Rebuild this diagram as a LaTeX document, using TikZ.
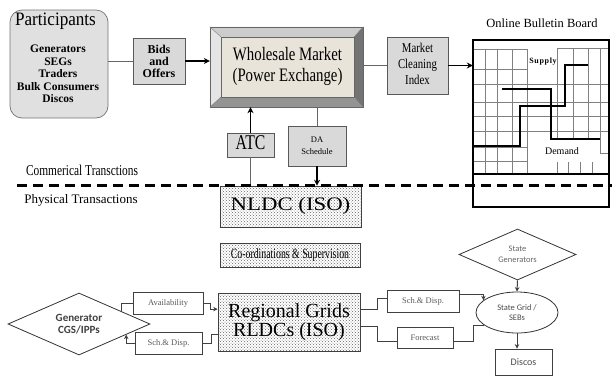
\documentclass[tikz,border=0pt]{standalone}
\usepackage{fontspec}
\usepackage{graphicx}
\setmainfont{Liberation Serif}
\newfontfamily\sansf{Carlito}
\usetikzlibrary{shapes.geometric,arrows.meta,calc,patterns}
\newcommand{\hsq}[2]{\scalebox{#1}[1]{\begin{tabular}{@{}c@{}}#2\end{tabular}}}
\definecolor{beige}{HTML}{E9E4DA}
\begin{document}
\begin{tikzpicture}[x=1pt,y=-1pt,
  thinln/.style={draw=black!60,line width=0.6pt},
  thickarr/.style={draw=black,line width=1.5pt,-{Stealth[length=6pt,width=6pt]}},
  botln/.style={draw=black!75,line width=1pt},
  botarr/.style={botln,-{Stealth[length=4.5pt,width=4.5pt]}},
  graybox/.style={draw=black!65,line width=0.6pt,fill=black!15,inner sep=0pt,align=center},
  dotbox/.style={draw=black!75,line width=0.6pt,inner sep=0pt,align=center,preaction={fill=white},pattern=crosshatch dots,pattern color=black!60,text=black},
  smallbox/.style={draw=black!75,line width=1pt,inner sep=0pt,align=center,fill=white,font=\fontsize{8.5}{9}\selectfont,text=black!65},
  gridln/.style={draw=black!50,line width=0.5pt},
  curve/.style={draw=black,line width=1.8pt},
  plain/.style={inner sep=0pt,align=center},
]
\useasboundingbox (0,0) rectangle (612,376);

% Participants
\node[draw=black!55,line width=0.7pt,fill=black!12,rounded corners=12pt,minimum width=98,minimum height=108,inner sep=0pt] (part) at (59,64) {};
\node[plain,font=\fontsize{19}{20}\selectfont] (parttitle) at (55.5,21) {\hsq{0.9}{Participants}};
\node[plain,font=\bfseries\fontsize{11.5}{12.5}\selectfont] (partlist) at (58,74) {Generators\\SEGs\\Traders\\Bulk Consumers\\Discos};

% Bids
\node[graybox,minimum width=52,minimum height=46,font=\bfseries\fontsize{12}{12}\selectfont] (bids) at (159,61) {Bids\\and\\Offers};

% Wholesale market (bevelled)
\node[minimum width=133,minimum height=60,inner sep=0pt,fill=beige] (wmin) at (287.5,67) {};
\node[minimum width=153,minimum height=80,inner sep=0pt] (wm) at (286.5,67) {};
\fill[black!10] (wm.north west) -- (wmin.north west) -- (wmin.south west) -- (wm.south west) -- cycle;
\fill[black!20] (wm.north west) -- (wm.north east) -- (wmin.north east) -- (wmin.north west) -- cycle;
\fill[black!42] (wm.south west) -- (wmin.south west) -- (wmin.south east) -- (wm.south east) -- cycle;
\fill[black!55] (wm.north east) -- (wm.south east) -- (wmin.south east) -- (wmin.north east) -- cycle;
\draw[black!60,line width=0.6pt] (wm.north west) rectangle (wm.south east);
\draw[black!60,line width=0.6pt] (wmin.north west) rectangle (wmin.south east);
\draw[black!50,line width=0.4pt] (wm.north west) -- (wmin.north west) (wm.north east) -- (wmin.north east) (wm.south west) -- (wmin.south west) (wm.south east) -- (wmin.south east);
\node[plain,font=\fontsize{19}{21}\selectfont] (wmtext) at (wmin.center) {\hsq{0.78}{Wholesale Market\\(Power Exchange)}};

% Market cleaning index
\node[graybox,minimum width=61,minimum height=57,font=\fontsize{13.5}{16}\selectfont] (mci) at (417.5,65.5) {\hsq{0.8}{Market\\Cleaning\\Index}};

% Bulletin board
\node[plain,font=\fontsize{12.5}{13}\selectfont] (bbtitle) at (542,23) {Online Bulletin Board};
\node[minimum width=136,minimum height=167,inner sep=0pt] (board) at (541,123.5) {};
\foreach \x in {485,497,512,527} \draw[gridln] (\x,49) -- (\x,174);
\foreach \x in {557,573,588} \draw[gridln] (\x,48) -- (\x,139);
\draw[gridln] (600,48) -- (600,153) -- (609,153);
\foreach \x in {557,568,580,592} \draw[gridln] (\x,162) -- (\x,174);
\draw[gridln] (473,49) -- (528,49);
\draw[gridln] (557,48) -- (609,48);
\foreach \y in {69,147,161} \draw[gridln] (473,\y) -- (527,\y);
\foreach \y in {84,102,116,131} \draw[gridln] (473,\y) -- (609,\y);
\draw[curve] (474,146) -- (520,146) -- (520,106) -- (565,106) -- (565,65) -- (588,65);
\draw[curve] (502,89) -- (551,89) -- (551,139) -- (600,139);
\node[plain,font=\bfseries\fontsize{8}{8}\selectfont\addfontfeature{LetterSpace=8}] (supply) at (543,62) {Supply};
\node[plain,font=\fontsize{10}{10}\selectfont] (demand) at (562,151) {Demand};
\coordinate (divy) at (0,174);
\draw[line width=1.6pt] (board.west |- divy) -- (board.east |- divy);
\draw[line width=2.2pt] (board.north west) rectangle (board.south east);

% ATC / DA
\node[graybox,minimum width=47,minimum height=24,font=\fontsize{21}{22}\selectfont] (atc) at (250.5,145) {\hsq{0.75}{ATC}};
\node[graybox,minimum width=58,minimum height=40,font=\fontsize{8.5}{12}\selectfont] (da) at (317,146) {DA\\Schedule};

% NLDC / coordination / regional grids
\node[dotbox,minimum width=141,minimum height=41,font=\fontsize{19}{20}\selectfont] (nldc) at (290.5,206.5) {\hsq{1.2}{NLDC (ISO)}};
\node[dotbox,minimum width=140,minimum height=24,font=\fontsize{14}{15}\selectfont] (coord) at (290,255) {\hsq{0.7}{Co-ordinations \& Supervision}};
\node[dotbox,minimum width=142,minimum height=58,font=\fontsize{20}{18}\selectfont] (rg) at (289,322) {Regional Grids\\RLDCs (ISO)};

% Bottom left
\node[diamond,draw=black!80,line width=0.8pt,minimum width=142,minimum height=62,inner sep=0pt,aspect=2.2,font=\sansf\bfseries\fontsize{11}{11.5}\selectfont,text=black!75,align=center] (gen) at (79,324) {Generator\\CGS/IPPs};
\node[smallbox,minimum width=70,minimum height=22] (avail) at (168,303) {Availability};
\node[smallbox,minimum width=67,minimum height=22] (sdl) at (168.5,343) {Sch.\& Disp.};

% Bottom right
\node[diamond,draw=black!80,line width=0.8pt,minimum width=117,minimum height=51,inner sep=0pt,aspect=2.3,font=\sansf\fontsize{8.5}{10.5}\selectfont,text=black!60,align=center] (sgd) at (517.5,254.5) {State\\Generators};
\node[ellipse,draw=black!80,line width=0.8pt,minimum width=82,minimum height=41,inner sep=0pt,font=\sansf\fontsize{8.5}{9.5}\selectfont,text=black!70,align=center] (ell) at (517,312.5) {State Grid /\\SEBs};
\node[draw=black!75,line width=0.8pt,fill=white,minimum width=57,minimum height=26,inner sep=0pt,font=\sansf\fontsize{10}{10}\selectfont,text=black!70] (discos) at (523.5,362) {Discos};
\node[smallbox,minimum width=72,minimum height=22] (sdr) at (423,301) {Sch.\& Disp.};
\node[smallbox,minimum width=56,minimum height=21] (fc) at (425,337.5) {Forecast};

% Top connectors
\draw[thinln] (part.east |- bids.west) -- (bids.west);
\draw[thickarr] (bids.east) -- (bids.east -| wm.west);
\draw[thinln] (wm.east |- mci.west) -- (mci.west);
\draw[thickarr] (mci.east) -- (mci.east -| board.west);
\draw[thickarr] (atc.north) -- (atc.north |- wm.south);
\draw[thinln] (atc.south) -- (atc.south |- nldc.north);
\draw[thinln] (da.north |- wm.south) -- (da.north);
\draw[thickarr] (da.south) -- (da.south |- nldc.north);

% Dashed separator and labels
\coordinate (dashL) at (17,185);
\coordinate (dashR) at (612,185);
\draw[black,line width=3pt,dash pattern=on 10pt off 6pt] (dashL) -- (dashR);
\node[plain,font=\fontsize{15}{16}\selectfont] (comm) at (82,172) {\hsq{0.76}{Commerical Transctions}};
\node[plain,font=\fontsize{13}{14}\selectfont] (phys) at (81,200) {Physical Transactions};

% Bottom connectors
\draw[botln] ($(gen.east)!0.41!(gen.north)$) |- (avail.west);
\draw[botarr] (avail.east) -- ++(7,0) |- ($(rg.north west)!0.28!(rg.south west)$);
\draw[botln] ($(rg.north west)!0.71!(rg.south west)$) -- ++(-6,0) |- (sdl.east);
\draw[botarr] (sdl.west) -| ($(gen.east)!0.338!(gen.south)$);
\draw[botln] ($(rg.north east)!0.28!(rg.south east)$) -- ++(17,0) |- ($(sdr.north west)!0.4!(sdr.south west)$);
\draw[botarr] ($(sdr.north east)!0.2!(sdr.south east)$) -| (ell.160);
\draw[botln] ($(rg.north east)!0.57!(rg.south east)$) -- ++(17,0) |- ($(fc.north west)!0.7!(fc.south west)$);
\draw[botln] ($(fc.north east)!0.7!(fc.south east)$) -- ++(20,0) |- (ell.201);
\draw[botarr] (sgd.south) -- (ell.north);
\draw[botarr] (ell.south) -- (ell.south |- discos.north);
\end{tikzpicture}
\end{document}
